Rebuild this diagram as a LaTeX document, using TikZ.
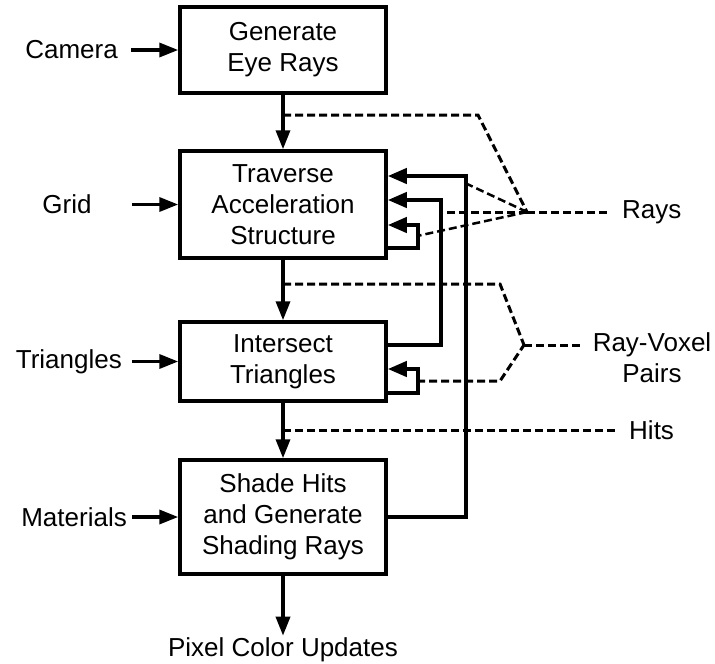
\documentclass[tikz,border=0pt]{standalone}
\usepackage{fontspec}
\setmainfont{Liberation Sans}
\usetikzlibrary{arrows.meta, positioning, calc}
\tikzset{
	stage/.style={rectangle, draw, line width=3.5pt, minimum width=206pt, align=center, inner sep=0pt},
	txt/.style={inner sep=2pt},
	line/.style={draw, line width=3.5pt, -{Triangle[length=19pt,width=14pt]}},
	feed/.style={draw, line width=4pt, -{Triangle[length=19pt,width=15pt]}},
	ray/.style={draw, line width=3pt, dash pattern=on 8pt off 4pt},
	thinray/.style={ray, line width=2.5pt}
}
\begin{document}
\begin{tikzpicture}[x=1pt,y=-1pt,font=\fontsize{26}{31}\selectfont]
			\useasboundingbox (0,0) rectangle (715,664);
			% Stages
			\node[stage, minimum height=86pt] (gen) at (283,50) {Generate\\Eye Rays};
			\node[stage, minimum height=107pt] (trav) at (283,204.5) {Traverse\\Acceleration\\Structure};
			\node[stage, minimum height=79pt] (isect) at (283,361.5) {Intersect\\Triangles};
			\node[stage, minimum height=114pt] (shade) at (283,517) {Shade Hits\\and Generate\\Shading Rays};
			
			% Inputs
			\node[txt, anchor=east] (cam) at (120,50) {Camera};
			\node[txt] (grid) at (67,204.5) {Grid};
			\node[txt, anchor=east] (tri) at (124,361.5) {Triangles};
			\node[txt, anchor=east] (mat) at (129,517) {Materials};
			
			% Outputs
			\node[txt] (pix) at (283,650) {Pixel Color Updates};
			\node[txt, anchor=west] (rays) at (620,212) {Rays};
			\node[txt, align=center] (rvp) at (652,358) {Ray-Voxel\\Pairs};
			\node[txt, anchor=west] (hits) at (627,430) {Hits};
			
			% Junctions and taps
			\coordinate (jr) at (527,212);
			\coordinate (jv) at (524,345);
			\coordinate (t1) at (283,115);
			\coordinate (t2) at (283,284);
			\coordinate (t3) at (283,430);
			\coordinate (r1) at (465,183);
			\coordinate (r2) at (440,212);
			\coordinate (r3) at (417,236);
			\coordinate (v1) at (417,381);
			
			% Connections
			\foreach \a/\b in {gen/trav, trav/isect, isect/shade}
			\draw[line] (\a) -- (\b);
			\draw[line] (shade) -- (pix.north);
			\foreach \s/\t/\d in {cam/gen/11, grid/trav/38, tri/isect/8, mat/shade/3}
			\draw[line] ([xshift=\d pt]\s.east) -- (\s.east -| \t.west);
			
			% Feedback
			\draw[feed] (shade.east) -- ++(78,0) |- ([yshift=28.5pt]trav.east);
			\draw[feed] ([yshift=16.5pt]isect.east) -- ++(53,0) |- ([yshift=4.5pt]trav.east);
			\draw[feed] ([yshift=-43.5pt]trav.east) -- ++(30,0) |- ([yshift=-20.5pt]trav.east);
			\draw[feed] ([yshift=-31.5pt]isect.east) -- ++(30,0) |- ([yshift=-7.5pt]isect.east);
			
			% Data streams
			\draw[ray] (t1) -- ++(195,0) -- (jr);
			\draw[thinray] (jr) -- (r1);
			\draw[ray] (jr) -- (r2);
			\draw[thinray] (jr) -- (r3);
			\draw[ray, shorten >=13pt] (jr) -- (rays.west);
			\draw[ray] (t2) -- ++(217,0) -- (jv);
			\draw[ray] (v1) -- ++(83,0) -- (jv);
			\draw[ray, shorten >=7pt] (jv) -- (rvp.west |- jv);
			\draw[ray, shorten >=9pt] (t3) -- (hits.west);
		\end{tikzpicture}
\end{document}
